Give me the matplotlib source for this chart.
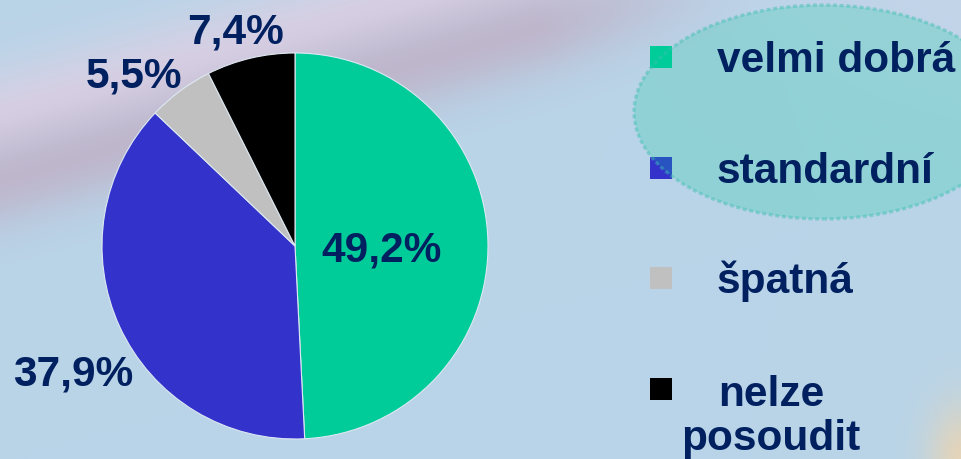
import matplotlib
matplotlib.use("Agg")
import matplotlib.pyplot as plt
import numpy as np
from matplotlib.patches import Ellipse, Rectangle

plt.rcParams["font.family"] = ["Liberation Sans", "DejaVu Sans"]
plt.rcParams["font.weight"] = "bold"

# hodnocení a podíly (%)
categories = ["velmi dobrá", "standardní", "špatná", "nelze posoudit"]
legend_labels = ["velmi dobrá", "standardní", "špatná", "nelze\nposoudit"]
shares = [49.2, 37.9, 5.5, 7.4]
colors = ["#00CC99", "#3333CC", "#C0C0C0", "#000000"]

W, H = 962, 459
INK = "#002060"


def fx(px):
    return px / W


def fy(py):
    return 1 - py / H


fig = plt.figure(figsize=(W / 100, H / 100), dpi=100)

# background: pale blue with a mauve streak at the top left and a warm corner
bg = fig.add_axes([0, 0, 1, 1])
yy, xx = np.mgrid[0:H, 0:W].astype(float)
img = np.ones((H, W, 3)) * np.array([185, 212, 232]) / 255
# lighter top-right tone
t = np.clip((xx - 600) / 362, 0, 1) * np.clip(1 - yy / 200, 0, 1)
img = img * (1 - 0.5 * t[..., None]) + 0.5 * t[..., None] * np.array([205, 212, 234]) / 255
# mauve streak running up to the right
p0, p1 = np.array([0.0, 175.0]), np.array([620.0, 0.0])
u = (p1 - p0) / np.linalg.norm(p1 - p0)
nrm = np.array([-u[1], u[0]])  # points down-right
d = (xx - p0[0]) * nrm[0] + (yy - p0[1]) * nrm[1]
along = (xx - p0[0]) * u[0] + (yy - p0[1]) * u[1]
fade = np.clip(1 - (along - 560) / 220, 0, 1)
halo = np.exp(-((d + 55) / 50) ** 2) * fade * 0.8
core = np.exp(-((d - 5) / 45) ** 2) * fade * 0.85
img = img * (1 - halo[..., None]) + halo[..., None] * np.array([224, 208, 228]) / 255
img = img * (1 - core[..., None]) + core[..., None] * np.array([190, 178, 200]) / 255
# warm glow in the bottom right corner
r = np.hypot((xx - W) * 1.3, (yy - H) * 0.8)
warm = np.exp(-(r / 45) ** 2) * 0.75
img = img * (1 - warm[..., None]) + warm[..., None] * np.array([242, 212, 170]) / 255
bg.imshow(img, aspect="auto", extent=[0, W, H, 0])
bg.set_axis_off()

# pie
cx, cy, rad = 295, 246, 193
ax = fig.add_axes([fx(cx - rad), fy(cy + rad), 2 * rad / W, 2 * rad / H])
wedges, _ = ax.pie(shares, colors=colors, startangle=90, counterclock=False,
                   radius=1, wedgeprops=dict(edgecolor="#DDE8F2", linewidth=0.8))
ax.set_xlim(-1, 1)
ax.set_ylim(-1, 1)
ax.set_axis_off()

# value labels (px positions of baseline centres)
label_pos = [(382, 262), (73, 385), (134, 88), (236, 44)]
for val, (px, py) in zip(shares, label_pos):
    fig.text(fx(px), fy(py), f"{val:.1f}%".replace(".", ","), ha="center",
             va="baseline", fontsize=30.5, color=INK, fontweight="bold")

# legend
rows = [57, 168, 278, 389]
for w, lab, ry in zip(wedges, legend_labels, rows):
    fig.patches.append(Rectangle((fx(650), fy(ry + 11)), 22 / W, 22 / H,
                                 transform=fig.transFigure,
                                 facecolor=w.get_facecolor(), edgecolor="none"))
    if "\n" in lab:
        # baseline of a multi-line text sits on its last line
        fig.text(fx(771), fy(ry + 61), lab, ha="center", va="baseline",
                 multialignment="center", fontsize=30.5, color=INK,
                 fontweight="bold", linespacing=1.12)
    else:
        fig.text(fx(717), fy(ry + 15), lab, ha="left", va="baseline",
                 fontsize=30.5, color=INK, fontweight="bold")

# translucent callout around the two leading categories
ell = Ellipse((fx(823), fy(112)), 2 * 189 / W, 2 * 107 / H,
              transform=fig.transFigure,
              facecolor=(0.0, 0.8, 0.6, 0.22), edgecolor=(0.25, 0.75, 0.7, 0.45),
              linewidth=2.4, linestyle=(0, (1.2, 0.8)))
fig.patches.append(ell)

fig.savefig("out.png", dpi=100)
